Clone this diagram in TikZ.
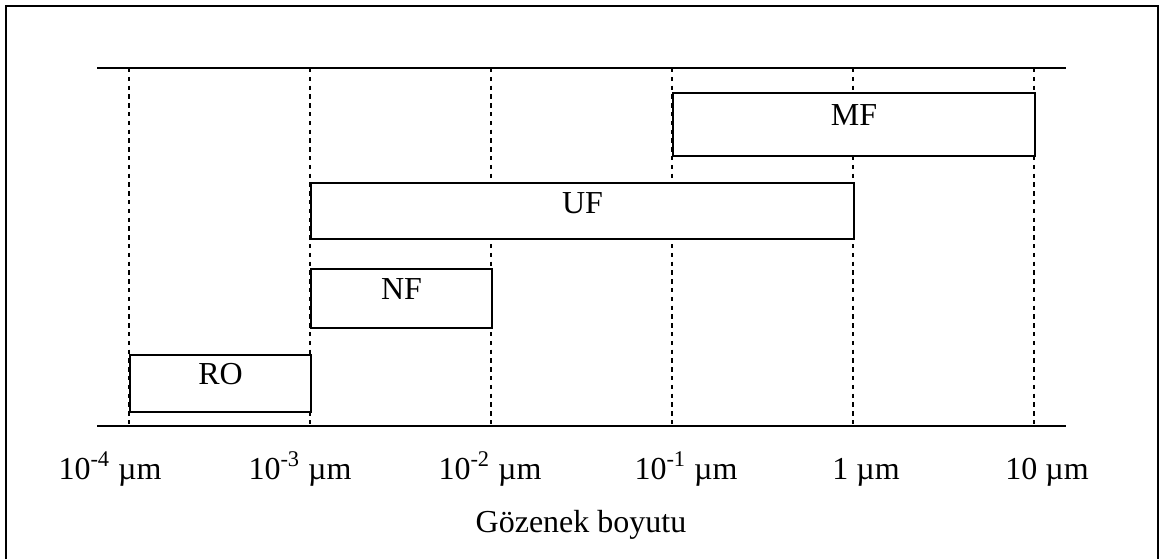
\documentclass[tikz,border=0pt]{standalone}
\usepackage{fontspec}
\setmainfont{Liberation Serif}
\begin{document}
\begin{tikzpicture}[x=0.5pt,y=-0.5pt,
  every node/.style={font=\fontsize{16}{19}\selectfont, inner sep=0pt},
  frameline/.style={line width=1pt},
  axisline/.style={line width=1pt},
  guide/.style={line width=0.85pt, dash pattern=on 2.2pt off 2.2pt},
  band/.style={draw, fill=white, line width=1pt, rectangle, anchor=north west},
  ticklabel/.style={anchor=base},
]
\useasboundingbox (0,0) rectangle (1160,559);

% outer frame
\draw[frameline] (6,559) -- (6,6) -- (1158,6) -- (1158,559);

% axis lines
\coordinate (tl) at (97,68);
\coordinate (tr) at (1066,68);
\coordinate (bl) at (97,426);
\coordinate (br) at (1066,426);
\draw[axisline] (tl) -- (tr);
\draw[axisline] (bl) -- (br);

% decade guides
\foreach \i/\x in {0/129,1/310,2/491,3/672,4/853} {
  \coordinate (gt\i) at (\x,68);
  \coordinate (gb\i) at (\x,426);
  \draw[guide] (gt\i) -- (gb\i);
}
\coordinate (gt5) at (1034,68);
\coordinate (gb5) at (1034,426);
\draw[guide, line width=1.4pt] (gt5) -- (gb5);

% process ranges
\node[band, minimum width=181pt, minimum height=31.5pt] (mf) at (672,92) {};
\node[band, minimum width=271.5pt, minimum height=28pt] (uf) at (310,182) {};
\node[band, minimum width=90.5pt, minimum height=29.5pt] (nf) at (310,268) {};
\node[band, minimum width=90.5pt, minimum height=28.5pt] (ro) at (129,354) {};

\node (mft) at ([yshift=4.5pt]mf.center) {MF};
\node (uft) at ([yshift=4pt]uf.center) {UF};
\node (nft) at ([yshift=4.5pt]nf.center) {NF};
\node (rot) at ([yshift=4.5pt]ro.center) {RO};

% axis labels
\node[ticklabel] (l0) at (110,479) {10\textsuperscript{-4} µm};
\node[ticklabel] (l1) at (300,479) {10\textsuperscript{-3} µm};
\node[ticklabel] (l2) at (490,479) {10\textsuperscript{-2} µm};
\node[ticklabel] (l3) at (686,479) {10\textsuperscript{-1} µm};
\node[ticklabel] (l4) at (866,479) {1 µm};
\node[ticklabel] (l5) at (1047,479) {10 µm};

\node[ticklabel] (title) at (581,532) {Gözenek boyutu};
\end{tikzpicture}
\end{document}
